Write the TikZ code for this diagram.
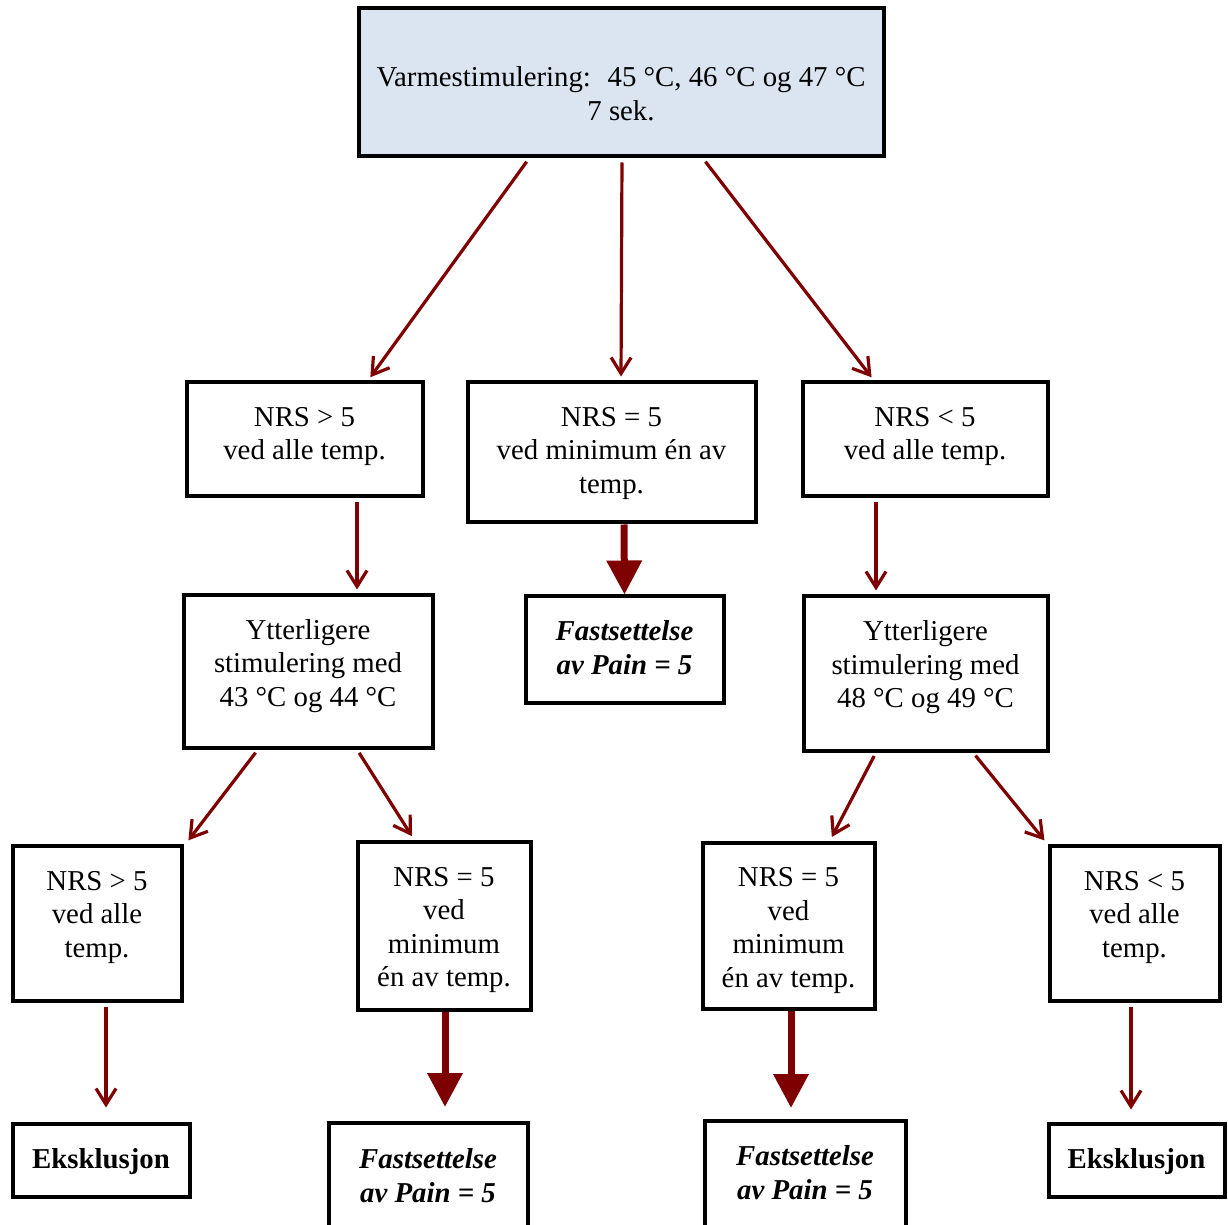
\documentclass[tikz,border=0pt]{standalone}
\usepackage{fontspec}
\setmainfont{Liberation Serif}
\usetikzlibrary{arrows.meta}
\definecolor{arrC}{HTML}{7F0000}
\definecolor{stimC}{HTML}{DBE5F1}

\begin{document}
\begin{tikzpicture}[
  x=0.5pt, y=-0.5pt,
  every node/.style={font=\fontsize{14.4}{16.8}\selectfont},
  flowbox/.style 2 args={
    draw=black, line width=2pt, inner sep=0pt,
    minimum width=#1, minimum height=#2,
  },
  boxtext/.style={align=center, inner sep=0pt},
  resulttext/.style={align=center, inner sep=0pt,
    font=\fontsize{14.4}{16.8}\selectfont\bfseries\itshape},
  exkltext/.style={inner sep=0pt,
    font=\fontsize{14.4}{16.8}\selectfont\bfseries},
  thinflow/.style={-{Straight Barb[length=8pt,width=10pt]}, arrC,
    line width=1.6pt, shorten <=2pt, shorten >=2pt},
  thickflow/.style={-{Triangle[length=17pt,width=17pt]}, arrC,
    line width=3.5pt},
]
\useasboundingbox (0,0) rectangle (1228,1225);

% ── Stimulation ──
\node[flowbox={262.5pt}{74pt}, fill=stimC] (stim) at (621,82.5) {};
\node[boxtext] (stim-t) at ([yshift=-5.75pt]stim.center)
      {Varmestimulering:~ 45 °C, 46 °C og 47 °C\\7 sek.};

% ── First response ──
\node[flowbox={118pt}{57pt}] (gt) at (304.5,439.5) {};
\node[boxtext] (gt-t) at ([yshift=1.5pt]gt.center) {NRS > 5\\ved alle temp.};

\node[flowbox={144pt}{70pt}] (eq) at (611.5,452.5) {};
\node[boxtext] (eq-t) at ([yshift=-0.5pt]eq.center) {NRS = 5\\ved minimum én av\\temp.};

\node[flowbox={122.5pt}{57pt}] (lt) at (925,439.5) {};
\node[boxtext] (lt-t) at ([yshift=1.5pt]lt.center) {NRS < 5\\ved alle temp.};

% ── Further stimulation ──
\node[flowbox={124.5pt}{76pt}] (ytLo) at (308,671.5) {};
\node[boxtext] (ytLo-t) at ([yshift=2.75pt]ytLo.center)
      {Ytterligere\\stimulering med\\43 °C og 44 °C};

\node[flowbox={99pt}{53pt}] (fastMid) at (624.5,649.5) {};
\node[resulttext] (fastMid-t) at ([yshift=1pt]fastMid.center)
      {Fastsettelse\\av Pain = 5};

\node[flowbox={122pt}{77pt}] (ytHi) at (925.5,673.5) {};
\node[boxtext] (ytHi-t) at ([yshift=3pt]ytHi.center)
      {Ytterligere\\stimulering med\\48 °C og 49 °C};

% ── Second response ──
\node[flowbox={84.5pt}{77.5pt}] (gtLo) at (97,923) {};
\node[boxtext] (gtLo-t) at ([yshift=2.75pt]gtLo.center) {NRS > 5\\ved alle\\temp.};

\node[flowbox={86.5pt}{84pt}] (eqLo) at (444,925.5) {};
\node[boxtext] (eqLo-t) at ([yshift=-2.25pt]eqLo.center)
      {NRS = 5\\ved\\minimum\\én av temp.};

\node[flowbox={86pt}{83pt}] (eqHi) at (788.5,925.5) {};
\node[boxtext] (eqHi-t) at ([yshift=-2.5pt]eqHi.center)
      {NRS = 5\\ved\\minimum\\én av temp.};

\node[flowbox={85pt}{77.5pt}] (ltHi) at (1134.5,923) {};
\node[boxtext] (ltHi-t) at ([yshift=2.75pt]ltHi.center) {NRS < 5\\ved alle\\temp.};

% ── Outcome ──
\node[flowbox={88.5pt}{36.5pt}] (ekskLo) at (101,1160) {};
\node[exkltext] (ekskLo-t) at ([yshift=-1pt]ekskLo.center) {Eksklusjon};

\node[flowbox={99.5pt}{54pt}] (fastLo) at (428,1177) {};
\node[resulttext] (fastLo-t) at ([yshift=0.75pt]fastLo.center)
      {Fastsettelse\\av Pain = 5};

\node[flowbox={100.5pt}{54pt}] (fastHi) at (805,1175) {};
\node[resulttext] (fastHi-t) at ([yshift=1.25pt]fastHi.center)
      {Fastsettelse\\av Pain = 5};

\node[flowbox={88pt}{36.5pt}] (ekskHi) at (1136.5,1160) {};
\node[exkltext] (ekskHi-t) at ([yshift=-1pt]ekskHi.center) {Eksklusjon};

% ── Arrows ──
\draw[thinflow] ([xshift=-46pt]stim.south) -- ([xshift=31.75pt]gt.north);
\draw[thinflow] ([xshift=0.5pt]stim.south) -- ([xshift=4.75pt]eq.north);
\draw[thinflow] ([xshift=41pt]stim.south) -- ([xshift=-25.5pt]lt.north);

\draw[thinflow] ([xshift=26.25pt]gt.south) -- ([xshift=24.5pt]ytLo.north);
\draw[thickflow] ([xshift=6.25pt]eq.south) -- (fastMid.north);
\draw[thinflow] ([xshift=-24.5pt]lt.south) -- ([xshift=-24.75pt]ytHi.north);

\draw[thinflow] ([xshift=-25pt]ytLo.south) -- ([xshift=44.5pt]gtLo.north);
\draw[thinflow] ([xshift=24.5pt]ytLo.south) -- ([xshift=-15pt]eqLo.north);
\draw[thinflow] ([xshift=-24.75pt]ytHi.south) -- ([xshift=20.75pt]eqHi.north);
\draw[thinflow] ([xshift=23.75pt]ytHi.south) -- ([xshift=-43.75pt]ltHi.north);

\draw[thinflow, shorten >=7pt] ([xshift=4.5pt]gtLo.south) -- ([xshift=2.5pt]ekskLo.north);
\draw[thickflow, shorten >=7pt] ([xshift=0.5pt]eqLo.south) -- ([xshift=8.5pt]fastLo.north);
\draw[thickflow, shorten >=5.5pt] ([xshift=1.25pt]eqHi.south) -- ([xshift=-7pt]fastHi.north);
\draw[thinflow, shorten >=6pt] ([xshift=-1.75pt]ltHi.south) -- ([xshift=-2.75pt]ekskHi.north);

\end{tikzpicture}
\end{document}
